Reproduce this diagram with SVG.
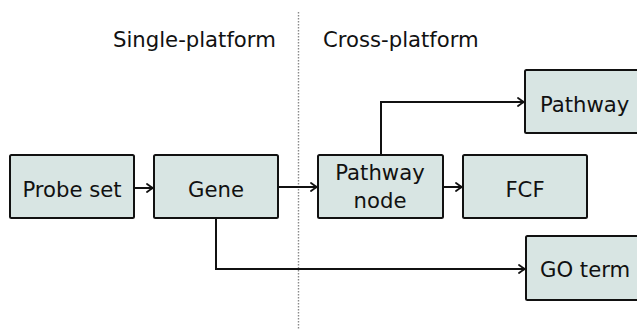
<svg xmlns="http://www.w3.org/2000/svg" width="637" height="330" viewBox="0 0 637 330">
  <style>
    .box { fill: #d8e5e3; stroke: #111; stroke-width: 2; }
    .lbl { font-family: "DejaVu Sans", sans-serif; font-size: 21.2px; fill: #111; }
    .mid { text-anchor: middle; }
    .edge { fill: none; stroke: #111; stroke-width: 2; }
    .divider { fill: none; stroke: #8a8a8a; stroke-width: 1.4; stroke-dasharray: 1.6 1.4; }
  </style>
  <defs>
    <marker id="arrow" markerUnits="userSpaceOnUse" viewBox="-8 -6 10 12" markerWidth="10" markerHeight="12" refX="0" refY="0" orient="auto">
      <path d="M-6,-4 Q-2,-1 0,0 Q-2,1 -6,4" fill="none" stroke="#111" stroke-width="1.8" stroke-linecap="round"/>
    </marker>
  </defs>
  <rect width="637" height="330" fill="#fff"/>

  <!-- platform divider and headings -->
  <line class="divider" x1="298.5" y1="12" x2="298.5" y2="330"/>
  <text class="lbl" x="113" y="47">Single-platform</text>
  <text class="lbl" x="323" y="47">Cross-platform</text>

  <!-- connectors -->
  <g id="connectors">
    <path class="edge" d="M134,188 H153" marker-end="url(#arrow)"/>
    <path class="edge" d="M278,187 H317" marker-end="url(#arrow)"/>
    <path class="edge" d="M443,187 H462" marker-end="url(#arrow)"/>
    <path class="edge" d="M381,155 V102 H524" marker-end="url(#arrow)"/>
    <path class="edge" d="M216,218 V269 H525" marker-end="url(#arrow)"/>
  </g>

  <g id="probe-set">
    <rect class="box" x="10" y="155" width="124" height="63" rx="1.5"/>
    <text class="lbl mid" x="72" y="197">Probe set</text>
  </g>
  <g id="gene">
    <rect class="box" x="154" y="155" width="124" height="63" rx="1.5"/>
    <text class="lbl mid" x="216" y="197">Gene</text>
  </g>
  <g id="pathway-node">
    <rect class="box" x="318" y="155" width="125" height="63" rx="1.5"/>
    <text class="lbl mid" x="380" y="180">Pathway</text>
    <text class="lbl mid" x="380" y="208">node</text>
  </g>
  <g id="fcf">
    <rect class="box" x="463" y="155" width="124" height="63" rx="1.5"/>
    <text class="lbl mid" x="525" y="197">FCF</text>
  </g>
  <g id="pathway">
    <rect class="box" x="525" y="70" width="124" height="63" rx="1.5"/>
    <text class="lbl" x="540" y="112">Pathway</text>
  </g>
  <g id="go-term">
    <rect class="box" x="526" y="236" width="124" height="64" rx="1.5"/>
    <text class="lbl" x="540" y="277">GO term</text>
  </g>
</svg>
